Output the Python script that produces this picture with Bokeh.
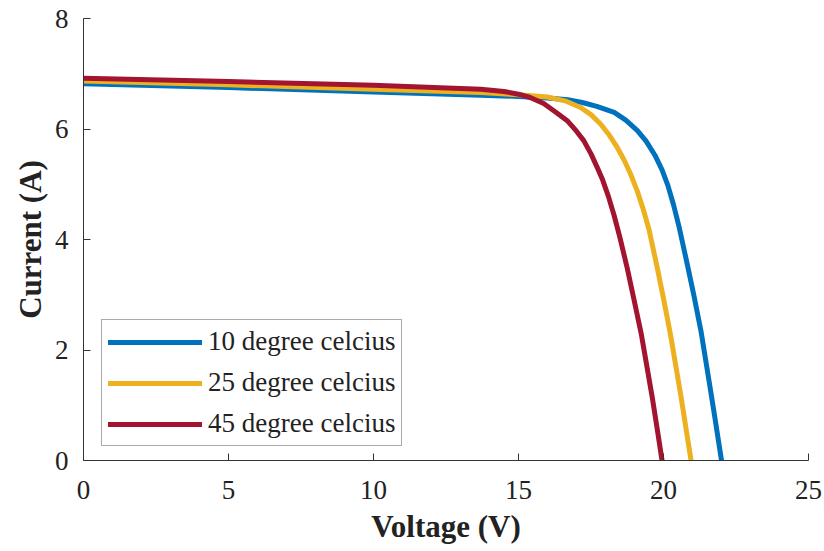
from bokeh.plotting import figure
from bokeh.models import Range1d, Legend, LegendItem, FixedTicker
from bokeh.embed import file_html
from bokeh.resources import INLINE

# Data (voltage in V, current in A)
v_10 = [0, 5, 10, 13.7, 15, 16, 16.7, 17.2, 17.7, 18.3, 18.7, 19.1, 19.4, 19.7, 19.95,
        20.15, 20.35, 20.55, 20.82, 21.05, 21.3, 21.62, 21.8, 22.0]
i_10 = [6.82, 6.75, 6.67, 6.61, 6.59, 6.56, 6.53, 6.48, 6.41, 6.30, 6.16, 5.97, 5.78, 5.53, 5.26,
        4.98, 4.62, 4.20, 3.55, 2.98, 2.32, 1.28, 0.68, 0]

v_25 = [0, 5, 10, 13.7, 15, 16, 16.6, 17.14, 17.5, 17.83, 18.1, 18.4, 18.65, 18.86, 19.1,
        19.3, 19.5, 19.78, 20.0, 20.24, 20.59, 20.77, 20.95]
i_25 = [6.87, 6.80, 6.72, 6.66, 6.62, 6.58, 6.51, 6.39, 6.26, 6.09, 5.91, 5.67, 5.43, 5.19, 4.87,
        4.55, 4.18, 3.50, 2.93, 2.28, 1.20, 0.60, 0]

v_45 = [0, 5, 10, 13.7, 14.5, 15.0, 15.4, 15.87, 16.3, 16.68, 17.0, 17.25, 17.5, 17.71, 17.9,
        18.1, 18.3, 18.5, 18.75, 19.0, 19.23, 19.61, 19.78, 19.95]
i_45 = [6.92, 6.86, 6.79, 6.72, 6.68, 6.63, 6.57, 6.46, 6.30, 6.15, 5.96, 5.79, 5.55, 5.31, 5.08,
        4.78, 4.43, 4.03, 3.48, 2.87, 2.30, 1.15, 0.58, 0]

labels = ["10 degree celcius", "25 degree celcius", "45 degree celcius"]
colors = ["#0072BD", "#EDB120", "#A2142F"]
x_ticks = [0, 5, 10, 15, 20, 25]
y_ticks = [0, 2, 4, 6, 8]

FONT = "Liberation Serif"
AX = "#333333"
TXT = "#222222"

p = figure(width=824, height=551, output_backend="svg", toolbar_location=None,
           x_range=Range1d(0, 25), y_range=Range1d(0, 8),
           min_border_left=83, min_border_right=16, min_border_top=18, min_border_bottom=91)
p.outline_line_color = None
p.grid.visible = False
p.background_fill_color = "white"
p.border_fill_color = "white"

series = [(v_10, i_10), (v_25, i_25), (v_45, i_45)]
renderers = []
for (vx, iy), c in zip(series, colors):
    r = p.line(vx, iy, line_color=c, line_width=5, line_join="round", line_cap="round")
    renderers.append(r)

for ax in (p.xaxis[0], p.yaxis[0]):
    ax.axis_line_color = AX
    ax.major_tick_line_color = AX
    ax.minor_tick_line_color = None
    ax.major_tick_in = 7
    ax.major_tick_out = 0
    ax.major_label_text_font = FONT
    ax.major_label_text_font_size = "27px"
    ax.major_label_text_color = TXT
    ax.axis_label_text_font = FONT
    ax.axis_label_text_font_size = "31px"
    ax.axis_label_text_font_style = "bold"
    ax.axis_label_text_color = TXT

p.xaxis[0].ticker = FixedTicker(ticks=x_ticks)
p.yaxis[0].ticker = FixedTicker(ticks=y_ticks)
p.xaxis[0].axis_label = "Voltage (V)"
p.yaxis[0].axis_label = "Current (A)"
p.xaxis[0].major_label_standoff = 20
p.xaxis[0].axis_label_standoff = 7
p.yaxis[0].major_label_standoff = 15
p.yaxis[0].axis_label_standoff = 4

legend = Legend(items=[LegendItem(label=l, renderers=[r]) for l, r in zip(labels, renderers)],
                location=(18, 14), orientation="vertical",
                label_text_font=FONT, label_text_font_size="27px", label_text_color=TXT,
                glyph_width=94, glyph_height=28, label_standoff=6, spacing=10, padding=6,
                margin=0, border_line_color="#555555", border_line_width=1,
                background_fill_color="white", background_fill_alpha=1.0)
p.add_layout(legend, "center")

open("out.html", "w").write(file_html(p, INLINE))
